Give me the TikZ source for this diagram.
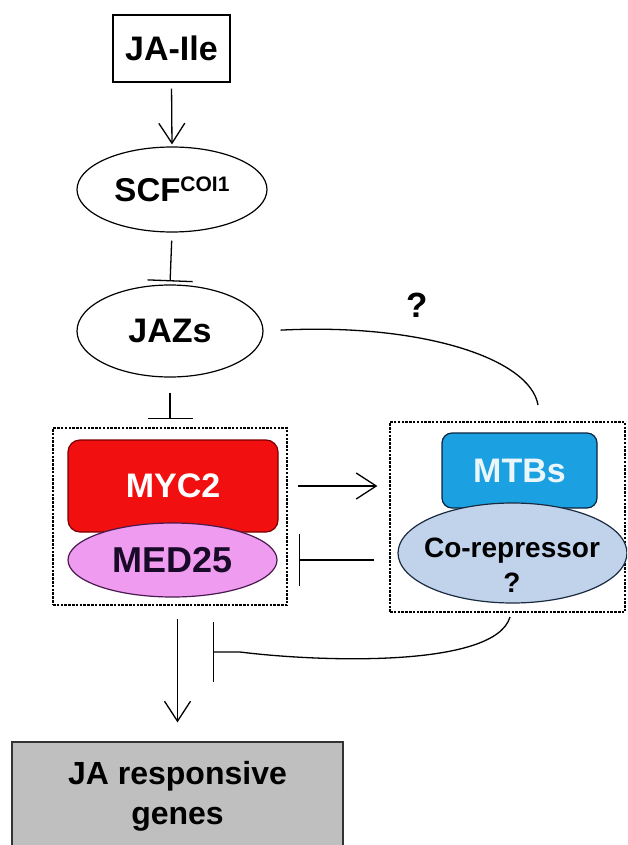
\documentclass[tikz,border=0pt]{standalone}
\usepackage{fontspec}
\setmainfont{Liberation Sans}
\usetikzlibrary{shapes.geometric,arrows.meta}
\definecolor{mycred}{HTML}{F20F0F}
\definecolor{mycline}{HTML}{7A0000}
\definecolor{medfill}{HTML}{EF9BEF}
\definecolor{medline}{HTML}{4A1A50}
\definecolor{medtext}{HTML}{1A0A2A}
\definecolor{mtbfill}{HTML}{1BA1E2}
\definecolor{mtbline}{HTML}{0B2540}
\definecolor{mtbtext}{HTML}{EAF6FA}
\definecolor{corfill}{HTML}{C0D3EA}
\definecolor{corline}{HTML}{1A2A40}
\definecolor{genefill}{HTML}{BFBFBF}
\definecolor{geneline}{HTML}{333333}
\begin{document}
\begin{tikzpicture}[x=1pt,y=-1pt,font=\bfseries,
  ln/.style={line width=1.3pt,draw=black},
  act/.style={ln,-{Straight Barb[length=20pt,width=26pt]}},
  inh/.style={ln,-{Bar[width=#1]}},
  inh/.default=45pt,
  dbox/.style={draw=black,line width=1.2pt,dash pattern=on 2.5pt off 1.3pt,minimum width=#1},
  ell/.style={ellipse,draw=black,line width=1.2pt,inner sep=0pt},
  txt/.style={inner sep=0pt,align=center}]
\useasboundingbox (0,0) rectangle (627,845);
\clip (0,0) rectangle (627,845);

% nodes
\node[draw=black,line width=1.3pt,minimum width=117pt,minimum height=67pt,inner sep=0pt,
  font=\bfseries\fontsize{34}{34}\selectfont] (jaile) at (171.5,48.5) {JA-Ile};
\node[ell,minimum width=190pt,minimum height=85pt,font=\bfseries\fontsize{33}{33}\selectfont]
  (scf) at (172,189.5) {SCF\raisebox{10pt}{\fontsize{21}{21}\selectfont COI1}};
\node[ell,minimum width=186pt,minimum height=92pt,font=\bfseries\fontsize{34}{34}\selectfont]
  (jazs) at (170,331) {JAZs};

\node[dbox=234pt,minimum height=177pt] (leftbox) at (170,516.5) {};
\node[draw=mycline,fill=mycred,line width=1.2pt,rounded corners=12pt,minimum width=210pt,
  minimum height=92pt,inner sep=0pt,text=white,font=\bfseries\fontsize{34}{34}\selectfont]
  (myc2) at (173,486) {MYC2};
\node[ell,draw=medline,fill=medfill,minimum width=209pt,minimum height=74pt,text=medtext,
  font=\bfseries\fontsize{36}{36}\selectfont] (med25) at (172.5,560) {MED25};

\node[dbox=235pt,minimum height=190pt] (rightbox) at (507.5,517) {};
\node[draw=mtbline,fill=mtbfill,line width=1.2pt,rounded corners=10pt,minimum width=155pt,
  minimum height=75pt,inner sep=0pt,text=mtbtext,font=\bfseries\fontsize{34}{34}\selectfont]
  (mtbs) at (519.5,470.5) {MTBs};
\node[ell,draw=corline,fill=corfill,minimum width=229pt,minimum height=100pt] (corep) at (512.5,553) {};
\node[txt,font=\bfseries\fontsize{28}{35}\selectfont] (coreptext) at (512,565) {Co-repressor\\?};

\node[draw=geneline,fill=genefill,line width=1.2pt,minimum width=331pt,minimum height=108pt,
  inner sep=0pt,align=center,font=\bfseries\fontsize{32}{40}\selectfont]
  (genes) at (177.5,796) {JA responsive\\genes};

\node[txt,font=\bfseries\fontsize{35}{35}\selectfont] (qtop) at (417,305) {?};

% connectors
\draw[act,shorten <=6pt,shorten >=2pt] (jaile.south) -- (scf.north);
\draw[inh,shorten <=8pt,shorten >=3pt] (scf.south) -- (jazs.north);
\draw[inh,shorten <=15pt,shorten >=8pt] (jazs.south) -- (leftbox.north);

\coordinate (mtbtop) at (538,405);
\draw[ln,shorten <=17pt] (jazs.east) .. controls (420,323) and (530,358) .. (mtbtop);

\draw[act,shorten <=10pt,shorten >=12pt] (leftbox.east |- myc2.center) -- (rightbox.west |- myc2.center);
\draw[inh=52pt,shorten <=15pt,shorten >=11pt] (rightbox.west |- med25.center) -- (leftbox.east |- med25.center);

\draw[act,shorten <=13pt,shorten >=19pt] (leftbox.south -| genes.north) -- (genes.north);

\coordinate (cstart) at (510,617);
\coordinate (barpt) at (213,652);
\draw[inh=60pt] (cstart) .. controls (495,668) and (320,662) .. (240,652) -- (barpt);
\end{tikzpicture}
\end{document}
